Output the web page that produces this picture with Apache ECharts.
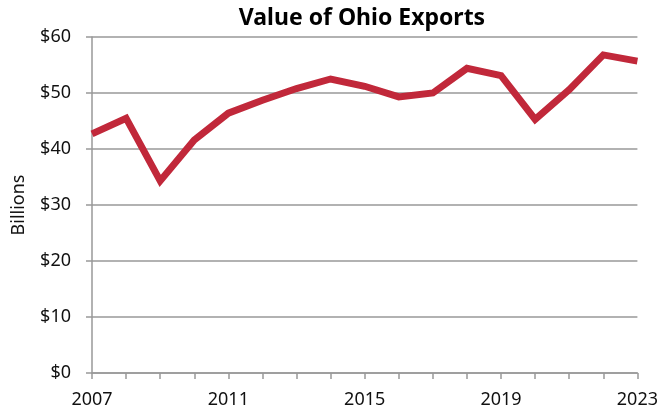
<!DOCTYPE html>
<html>
<head>
<meta charset="utf-8">
<script src="https://cdn.jsdelivr.net/npm/echarts@6/dist/echarts.min.js"></script>
<style>
    html, body { margin: 0; padding: 0; background: #fff; }
    #chart { width: 661px; height: 414px; }
</style>
</head>
<body>
<div id="chart"></div>
<script>
const years = ['2007', '2008', '2009', '2010', '2011', '2012', '2013', '2014', '2015',
    '2016', '2017', '2018', '2019', '2020', '2021', '2022', '2023'];
const exportValues = [42.7, 45.5, 34.3, 41.6, 46.4, 48.7, 50.8, 52.5, 51.2,
    49.3, 50.0, 54.4, 53.1, 45.3, 50.6, 56.8, 55.7];
const yTicks = [0, 10, 20, 30, 40, 50, 60];

const FONT = '"Source Sans Pro", "Noto Sans", sans-serif';
const GRID_COLOR = '#999999';

const chart = echarts.init(document.getElementById('chart'));
const option = {
    animation: false,
    title: {
        text: 'Value of Ohio Exports',
        left: 357,
        textAlign: 'center',
        top: 2,
        textStyle: {
            fontFamily: FONT,
            fontSize: 23,
            fontWeight: 'bold',
            color: '#000',
        },
    },
    grid: {
        left: 92,
        right: 22,
        top: 37,
        bottom: 41,
    },
    xAxis: {
        type: 'category',
        data: years,
        boundaryGap: false,
        axisLine: { lineStyle: { color: GRID_COLOR, width: 1.5 } },
        axisTick: {
            show: true,
            interval: 0,
            length: 6,
            lineStyle: { color: GRID_COLOR, width: 1.5 },
        },
        axisLabel: {
            interval: 3,
            fontFamily: FONT,
            fontSize: 18,
            color: '#111',
            margin: 18,
        },
    },
    yAxis: {
        type: 'value',
        min: yTicks[0],
        max: yTicks[yTicks.length - 1],
        interval: 10,
        name: 'Billions',
        nameLocation: 'middle',
        nameGap: 64,
        nameTextStyle: {
            fontFamily: FONT,
            fontSize: 18,
            color: '#111',
        },
        axisLine: { show: true, lineStyle: { color: GRID_COLOR, width: 1.5 } },
        axisTick: {
            show: true,
            length: 6,
            lineStyle: { color: GRID_COLOR, width: 1.5 },
        },
        splitLine: { lineStyle: { color: GRID_COLOR, width: 1.5 } },
        axisLabel: {
            formatter: (v) => '$' + v,
            fontFamily: FONT,
            fontSize: 18,
            color: '#111',
            margin: 21,
        },
    },
    series: [{
        type: 'line',
        data: exportValues,
        symbol: 'none',
        lineStyle: { color: '#c1283a', width: 7, join: 'miter' },
    }],
};
chart.setOption(option);
</script>
</body>
</html>
